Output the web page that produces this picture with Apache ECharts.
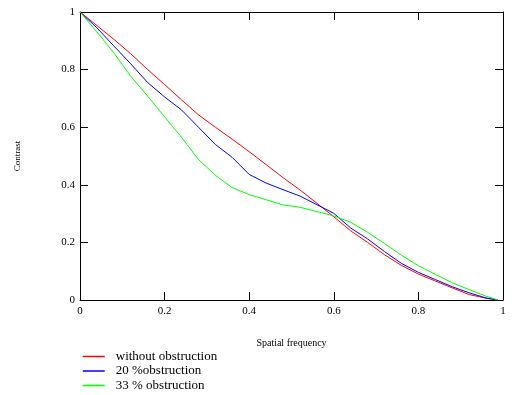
<!DOCTYPE html>
<html>
<head>
<meta charset="utf-8">
<script src="https://cdn.jsdelivr.net/npm/echarts@6/dist/echarts.min.js"></script>
<style>html,body{margin:0;padding:0;background:#fff}#c{width:521px;height:395px}</style>
</head>
<body>
<div id="c"></div>
<script>
const freq = [0, 0.04, 0.08, 0.12, 0.16, 0.20, 0.24, 0.28, 0.32, 0.36, 0.40, 0.44, 0.48, 0.52, 0.56, 0.60, 0.64, 0.68, 0.72, 0.76, 0.80, 0.84, 0.88, 0.92, 0.96, 0.988];
const withoutObstruction = [1, 0.953, 0.905, 0.855, 0.800, 0.748, 0.695, 0.643, 0.600, 0.558, 0.515, 0.470, 0.425, 0.382, 0.336, 0.289, 0.240, 0.200, 0.157, 0.120, 0.090, 0.066, 0.042, 0.019, 0.006, 0];
const obstruction20 = [1, 0.945, 0.882, 0.820, 0.755, 0.705, 0.660, 0.600, 0.540, 0.495, 0.436, 0.406, 0.383, 0.361, 0.331, 0.301, 0.250, 0.212, 0.168, 0.127, 0.096, 0.071, 0.046, 0.025, 0.007, 0];
const obstruction33 = [1, 0.931, 0.858, 0.777, 0.708, 0.636, 0.565, 0.488, 0.433, 0.390, 0.366, 0.348, 0.330, 0.322, 0.307, 0.292, 0.270, 0.235, 0.196, 0.155, 0.119, 0.089, 0.060, 0.036, 0.013, 0];
const seriesNames = ['without obstruction', '20 %obstruction', '33 % obstruction'];
const seriesColors = ['#ff0000', '#0000ff', '#00ff00'];
const seriesValues = [withoutObstruction, obstruction20, obstruction33];

const font = '"Liberation Serif", "Times New Roman", serif';
const chart = echarts.init(document.getElementById('c'));
const baseAxis = {
  type: 'value', min: 0, max: 1, interval: 0.2,
  axisLine: { show: true, onZero: false, lineStyle: { color: '#000', width: 1 } },
  axisTick: { show: true, inside: true, length: 8, lineStyle: { color: '#000', width: 1 } },
  splitLine: { show: false }
};
chart.setOption({
  animation: false,
  backgroundColor: '#fff',
  grid: { left: 80, right: 18, top: 12, bottom: 95 },
  xAxis: [
    Object.assign({}, baseAxis, {
      position: 'bottom',
      axisLabel: { color: '#000', fontFamily: font, fontSize: 11, margin: 6 },
      name: 'Spatial frequency', nameLocation: 'middle', nameGap: 38,
      nameTextStyle: { color: '#000', fontFamily: font, fontSize: 10 }
    }),
    Object.assign({}, baseAxis, { position: 'top', axisLabel: { show: false } })
  ],
  yAxis: [
    Object.assign({}, baseAxis, {
      position: 'left',
      axisLabel: { color: '#000', fontFamily: font, fontSize: 11, margin: 5 },
      name: 'Contrast', nameLocation: 'middle', nameGap: 58, nameRotate: 90,
      nameTextStyle: { color: '#000', fontFamily: font, fontSize: 9 }
    }),
    Object.assign({}, baseAxis, { position: 'right', axisLabel: { show: false } })
  ],
  legend: {
    orient: 'vertical', left: 82, top: 350,
    itemWidth: 22, itemHeight: 14, itemGap: 1.5,
    padding: 0,
    textStyle: { color: '#000', fontFamily: font, fontSize: 13, padding: [0, 0, 0, 6] },
    data: seriesNames.map((n, i) => ({
      name: n,
      itemStyle: { color: seriesColors[i], opacity: 0 },
      lineStyle: { color: seriesColors[i], width: 1.5, opacity: 1 }
    }))
  },
  series: seriesNames.map((n, i) => ({
    name: n, type: 'line', symbol: 'none', smooth: false,
    xAxisIndex: 0, yAxisIndex: 0,
    lineStyle: { color: seriesColors[i], width: 1 },
    itemStyle: { color: seriesColors[i] },
    data: freq.map((f, k) => [f, seriesValues[i][k]])
  }))
});
</script>
</body>
</html>
